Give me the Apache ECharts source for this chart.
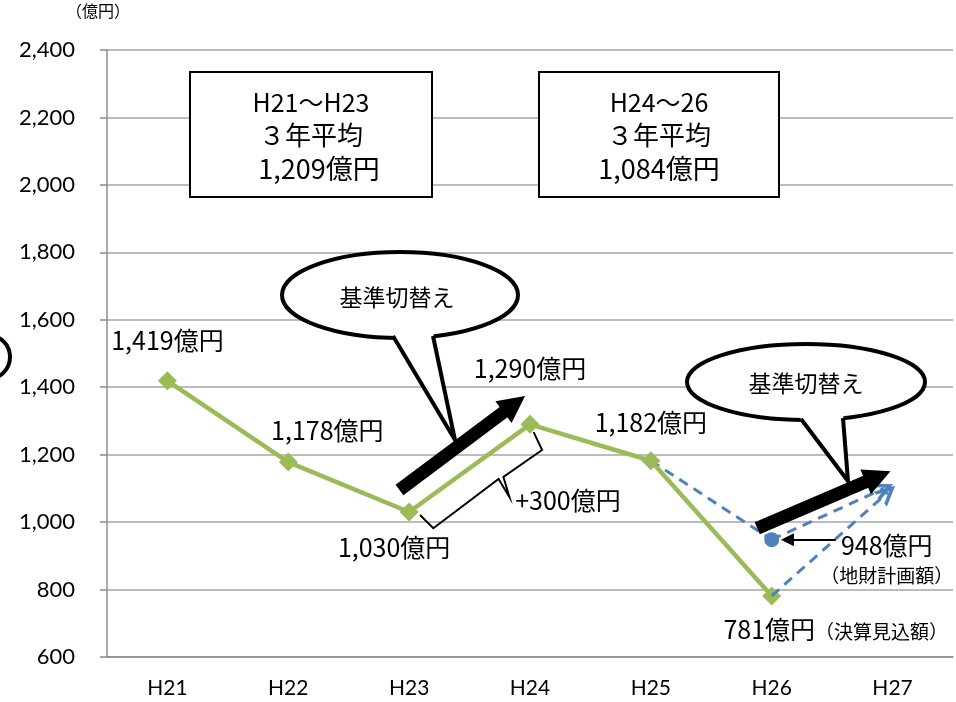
<!DOCTYPE html>
<html>
<head>
<meta charset="utf-8">
<script src="https://cdn.jsdelivr.net/npm/echarts@6/dist/echarts.min.js"></script>
<style>
html, body { margin: 0; padding: 0; background: #fff; }
#main { width: 956px; height: 702px; }
</style>
</head>
<body>
<div id="main"></div>
<script>
// data
var years = ['H21', 'H22', 'H23', 'H24', 'H25', 'H26', 'H27'];
var settled = [1419, 1178, 1030, 1290, 1182, 781, null];   // 決算見込額
var planned = [null, null, null, null, 1182, 948, null];   // 地財計画額
var yMin = 600, yMax = 2400, yStep = 200;

// annotation shapes in (category index, 億円)
var switchArrow1 = [[1.92, 1095], [2.87, 1350]];
var switchArrow2 = [[4.88, 982], [5.88, 1135]];
var planArrowA = [[5.0, 948], [5.93, 1100]];
var planArrowB = [[5.0, 781], [5.96, 1088]];
var pointerArrow = [[5.53, 948], [5.13, 948]];
var brace = [[2.09, 1021], [2.20, 982], [2.74, 1128], [2.83, 1074], [2.78, 1134], [3.10, 1214], [3.03, 1267]];

// label placement (not data)
var settledLabelPos = ['top', 'top', 'bottom', 'top', 'top', 'bottom', 'top'];
var settledLabelOffset = [[0, -13], [39, -5], [-15, 9], [0, -29], [0, -11], [64, 7], [0, 0]];

var fontJP = '"Noto Sans CJK JP", sans-serif';
var fontNum = 'Lato, "Noto Sans CJK JP", sans-serif';

function fmt(v) {
  return v.toLocaleString('en-US');
}

var settledData = settled.map(function (v, i) {
  if (v == null) return null;
  return {
    value: v,
    label: { position: settledLabelPos[i], offset: settledLabelOffset[i] }
  };
});

var chart = echarts.init(document.getElementById('main'));

var option = {
  backgroundColor: '#fff',
  animation: false,
  grid: { left: 107, right: 3, top: 50, bottom: 45 },
  xAxis: [{
    type: 'category',
    data: years,
    boundaryGap: true,
    axisLine: { lineStyle: { color: '#8c8c8c', width: 1.5 } },
    axisTick: { length: 8, lineStyle: { color: '#8c8c8c', width: 1.5 } },
    axisLabel: { margin: 21, fontSize: 21, color: '#000', fontFamily: fontNum }
  }, {
    type: 'value', min: -0.5, max: 6.5, show: false
  }],
  yAxis: {
    type: 'value',
    min: yMin, max: yMax, interval: yStep,
    axisLine: { show: true, onZero: false, lineStyle: { color: '#8c8c8c', width: 1.5 } },
    axisTick: { show: true, length: 7, lineStyle: { color: '#8c8c8c', width: 1.5 } },
    splitLine: { lineStyle: { color: '#a6a6a6', width: 1.5 } },
    axisLabel: { margin: 32, fontSize: 22, color: '#000', fontFamily: fontNum,
      formatter: function (v) { return fmt(v); } }
  },
  series: [{
    name: '地財計画額',
    type: 'line',
    data: planned,
    z: 3,
    lineStyle: { color: '#4f81bd', width: 3, type: [10, 7] },
    itemStyle: { color: '#4f81bd' },
    symbol: 'circle',
    symbolSize: function (v, p) { return p.dataIndex === 5 ? 15 : 0; },
    label: {
      show: true,
      position: 'right',
      offset: [36, 20],
      color: '#000',
      formatter: function (p) {
        if (p.dataIndex !== 5) return '';
        return '{a|' + fmt(p.value) + '億円}\n{b|（地財計画額）}';
      },
      rich: {
        a: { fontSize: 25, fontFamily: fontJP, align: 'center', lineHeight: 32 },
        b: { fontSize: 19, fontFamily: fontJP, align: 'center', lineHeight: 28 }
      }
    }
  }, {
    name: '決算見込額',
    type: 'line',
    data: settledData,
    z: 4,
    lineStyle: { color: '#9bbb59', width: 4.5 },
    itemStyle: { color: '#9bbb59' },
    symbol: 'diamond',
    symbolSize: 19,
    label: {
      show: true,
      color: '#000',
      fontSize: 25,
      fontFamily: fontJP,
      formatter: function (p) {
        if (p.dataIndex === 5) return '{a|' + fmt(p.value) + '億円}{b|（決算見込額）}';
        return fmt(p.value) + '億円';
      },
      rich: {
        a: { fontSize: 25, fontFamily: fontJP },
        b: { fontSize: 19, fontFamily: fontJP, padding: [4, 0, 0, 0] }
      }
    }
  }, {
    type: 'lines',
    coordinateSystem: 'cartesian2d',
    xAxisIndex: 1,
    z: 6,
    symbol: ['none', 'triangle'],
    symbolSize: [0, 27],
    lineStyle: { color: '#000', width: 13, opacity: 1 },
    data: [{ coords: switchArrow1 }, { coords: switchArrow2 }]
  }, {
    type: 'lines',
    coordinateSystem: 'cartesian2d',
    xAxisIndex: 1,
    z: 5,
    symbol: ['none', 'path://M0,12 L10,0 L20,12 L16,12 L10,5 L4,12 Z'],
    symbolSize: [0, 20],
    lineStyle: { color: '#4f81bd', width: 3, type: [10, 7], opacity: 1 },
    data: [{ coords: planArrowA }, { coords: planArrowB }]
  }, {
    type: 'lines',
    coordinateSystem: 'cartesian2d',
    xAxisIndex: 1,
    z: 6,
    symbol: ['none', 'triangle'],
    symbolSize: [0, 13],
    lineStyle: { color: '#000', width: 2, opacity: 1 },
    data: [{ coords: pointerArrow }]
  }, {
    type: 'lines',
    coordinateSystem: 'cartesian2d',
    xAxisIndex: 1,
    polyline: true,
    z: 6,
    lineStyle: { color: '#000', width: 2, opacity: 1 },
    data: [{ coords: brace }]
  }],
  graphic: [
    { type: 'text', left: 66, top: 3, z: 100,
      style: { text: '（億円）', fontSize: 16, fontFamily: fontJP, fill: '#000' } },
    { type: 'circle', z: 100, shape: { cx: -12, cy: 357, r: 22 },
      style: { fill: 'none', stroke: '#000', lineWidth: 4 } },
    // 3年平均 boxes
    { type: 'rect', z: 100, shape: { x: 190, y: 72, width: 242, height: 125 },
      style: { fill: '#fff', stroke: '#000', lineWidth: 2 } },
    { type: 'text', z: 101, x: 311, y: 102,
      style: { text: 'H21～H23', fontSize: 25, fontFamily: fontJP, fill: '#000', align: 'center', verticalAlign: 'middle' } },
    { type: 'text', z: 101, x: 311, y: 135,
      style: { text: '３年平均', fontSize: 26, fontFamily: fontJP, fill: '#000', align: 'center', verticalAlign: 'middle' } },
    { type: 'text', z: 101, x: 319, y: 169,
      style: { text: '1,209億円', fontSize: 27, fontFamily: fontJP, fill: '#000', align: 'center', verticalAlign: 'middle' } },
    { type: 'rect', z: 100, shape: { x: 539, y: 72, width: 240, height: 125 },
      style: { fill: '#fff', stroke: '#000', lineWidth: 2 } },
    { type: 'text', z: 101, x: 659, y: 102,
      style: { text: 'H24～26', fontSize: 25, fontFamily: fontJP, fill: '#000', align: 'center', verticalAlign: 'middle' } },
    { type: 'text', z: 101, x: 659, y: 135,
      style: { text: '３年平均', fontSize: 26, fontFamily: fontJP, fill: '#000', align: 'center', verticalAlign: 'middle' } },
    { type: 'text', z: 101, x: 659, y: 169,
      style: { text: '1,084億円', fontSize: 27, fontFamily: fontJP, fill: '#000', align: 'center', verticalAlign: 'middle' } },
    // callout 1
    { type: 'ellipse', z: 100, shape: { cx: 400, cy: 295, rx: 118, ry: 43 },
      style: { fill: '#fff', stroke: '#000', lineWidth: 4 } },
    { type: 'polygon', z: 101, shape: { points: [[392, 328], [394, 340], [455, 440], [433, 338], [435, 328]] },
      style: { fill: '#fff' } },
    { type: 'polyline', z: 102, shape: { points: [[393, 336], [455, 440], [433, 336]] },
      style: { stroke: '#000', lineWidth: 4, fill: 'none' } },
    { type: 'text', z: 103, x: 397, y: 297,
      style: { text: '基準切替え', fontSize: 23, fontFamily: fontJP, fill: '#000', align: 'center', verticalAlign: 'middle' } },
    // callout 2
    { type: 'ellipse', z: 100, shape: { cx: 806, cy: 382, rx: 119, ry: 38 },
      style: { fill: '#fff', stroke: '#000', lineWidth: 4 } },
    { type: 'polygon', z: 101, shape: { points: [[800, 412], [801, 422], [848, 481], [843, 420], [844, 412]] },
      style: { fill: '#fff' } },
    { type: 'polyline', z: 102, shape: { points: [[801, 419], [848, 481], [843, 418]] },
      style: { stroke: '#000', lineWidth: 4, fill: 'none' } },
    { type: 'text', z: 103, x: 806, y: 383,
      style: { text: '基準切替え', fontSize: 23, fontFamily: fontJP, fill: '#000', align: 'center', verticalAlign: 'middle' } },
    { type: 'text', z: 100, x: 568, y: 500,
      style: { text: '+300億円', fontSize: 25, fontFamily: fontJP, fill: '#000', align: 'center', verticalAlign: 'middle' } }
  ]
};

chart.setOption(option);
</script>
</body>
</html>
